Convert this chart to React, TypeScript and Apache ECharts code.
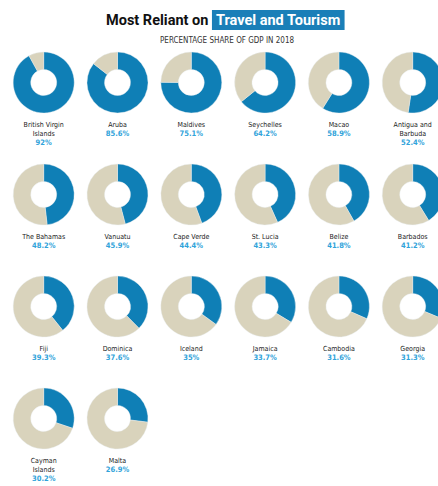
import React, { useEffect, useRef } from "react";
import * as echarts from "echarts";

const countries = [
  "British Virgin\nIslands", "Aruba", "Maldives", "Seychelles", "Macao", "Antigua and\nBarbuda",
  "The Bahamas", "Vanuatu", "Cape Verde", "St. Lucia", "Belize", "Barbados",
  "Fiji", "Dominica", "Iceland", "Jamaica", "Cambodia", "Georgia",
  "Cayman\nIslands", "Malta",
];
const shares = [92, 85.6, 75.1, 64.2, 58.9, 52.4, 48.2, 45.9, 44.4, 43.3, 41.8, 41.2, 39.3, 37.6, 35, 33.7, 31.6, 31.3, 30.2, 26.9];
const shareLabels = ["92%", "85.6%", "75.1%", "64.2%", "58.9%", "52.4%", "48.2%", "45.9%", "44.4%", "43.3%", "41.8%", "41.2%", "39.3%", "37.6%", "35%", "33.7%", "31.6%", "31.3%", "30.2%", "26.9%"];

const BLUE = "#0f7fb6";
const BEIGE = "#d9d3bc";
const FONT = "'DejaVu Sans Condensed', Roboto, sans-serif";
const TFONT = "Roboto, sans-serif";

export default function App() {
  const ref = useRef<HTMLDivElement>(null);
  useEffect(() => {
    document.body.style.margin = "0";
    const chart = echarts.init(ref.current!, undefined, { renderer: "svg" });
    const colX = (i: number) => 43.7 + 73.8 * i;
    const rowY = (r: number) => 82.5 + 112 * r;
    const R = 30.5;
    const series: any[] = shares.map((v, k) => {
      const col = k % 6;
      const row = Math.floor(k / 6);
      return {
        type: "pie",
        center: [colX(col), rowY(row)],
        radius: [13, R],
        startAngle: 90,
        clockwise: true,
        silent: true,
        label: { show: false },
        labelLine: { show: false },
        itemStyle: { borderColor: "#e8eef0", borderWidth: 0.4 },
        data: [
          { name: "Travel & Tourism", value: v, itemStyle: { color: BLUE } },
          { name: "Other", value: +(100 - v).toFixed(1), itemStyle: { color: BEIGE } },
        ],
      };
    });
    const titles: any[] = [
      {
        text: "{a|Most Reliant on }{b|Travel and Tourism}",
        left: 106,
        top: 10,
        padding: 0,
        textStyle: {
          rich: {
            a: { fontFamily: TFONT, fontWeight: "bold", fontSize: 14.5, color: "#111", lineHeight: 20 },
            b: {
              fontFamily: TFONT, fontWeight: "bold", fontSize: 14.5, color: "#fff",
              backgroundColor: "#1a7fb8", padding: [3, 4, 2, 4], lineHeight: 20,
            },
          },
        },
      },
      {
        text: "PERCENTAGE SHARE OF GDP IN 2018",
        left: 160,
        top: 36,
        padding: 0,
        textStyle: { fontFamily: FONT, fontSize: 8, fontWeight: "normal", color: "#333" },
      },
    ];
    shares.forEach((_, k) => {
      const col = k % 6;
      const row = Math.floor(k / 6);
      titles.push({
        text: `{n|${countries[k].replace("\n", "}\n{n|")}}\n{p|${shareLabels[k]}}`,
        left: colX(col),
        top: rowY(row) + R + 7,
        textAlign: "center",
        padding: 0,
        textStyle: {
          fontWeight: "normal",
          rich: {
            n: { fontFamily: FONT, fontSize: 7, fontWeight: "normal", color: "#1a1a1a", lineHeight: 9 },
            p: { fontFamily: FONT, fontSize: 7.5, fontWeight: "bold", color: "#30a3da", lineHeight: 9 },
          },
        },
      });
    });
    chart.setOption({
      animation: false,
      backgroundColor: "#fff",
      title: titles,
      series,
    });
    return () => chart.dispose();
  }, []);
  return <div ref={ref} style={{ width: 438, height: 486 }} />;
}
